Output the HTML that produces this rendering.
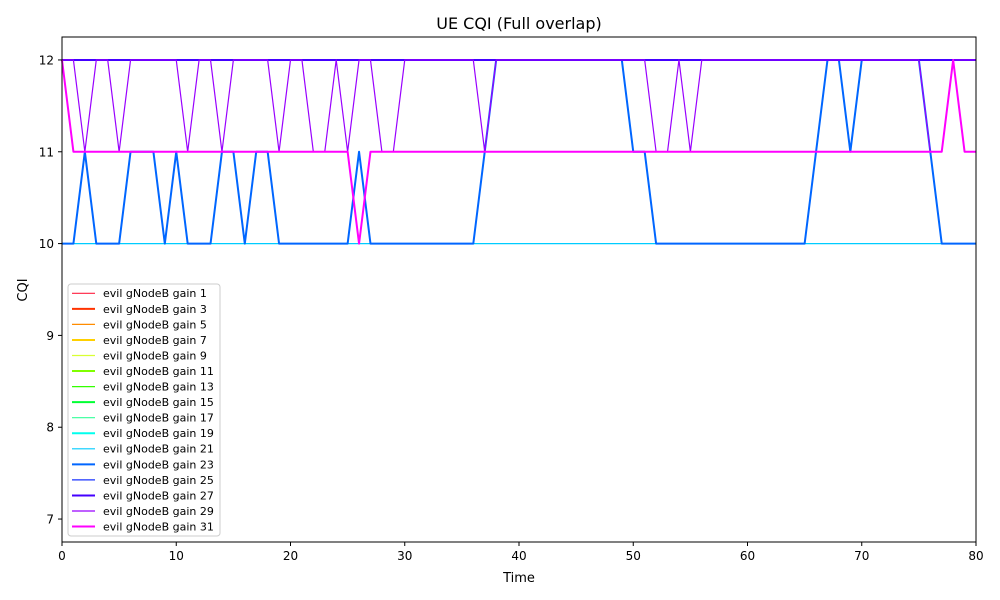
<!DOCTYPE html>
<html><head><meta charset="utf-8"><style>
body{margin:0;background:#fff}
svg{display:block;font-family:"DejaVu Sans","Liberation Sans",sans-serif}
</style></head><body>
<svg id="chart" width="1000" height="600" viewBox="0 0 1000 600">
<rect width="1000" height="600" fill="#fff"/>
<text x="519" y="29" font-size="16" text-anchor="middle">UE CQI (Full overlap)</text>
<g id="plot"></g>
<g id="axes"></g>
<text x="519" y="582" font-size="13" text-anchor="middle">Time</text>
<text x="27" y="290" font-size="13" text-anchor="middle" transform="rotate(-90 27 290)">CQI</text>
<g id="legend"></g>
</svg>
<script>
const gains = [1,3,5,7,9,11,13,15,17,19,21,23,25,27,29,31];
const colors = ["#ff2040","#ff3300","#ff8c00","#ffd000","#d9ff33","#80ff00","#33ff00","#00ff33","#33ff99","#00ffee","#00ccff","#0066ff","#1a33ff","#4400ff","#9900ff","#ff00ff"];
const xTicks = [0,10,20,30,40,50,60,70,80];
const yTicks = [7,8,9,10,11,12];
const s23 = [10,10,11,10,10,10,11,11,11,10,11,10,10,10,11,11,10,11,11,10,10,10,10,10,10,10,11,10,10,10,10,10,10,10,10,10,10,11,12,12,12,12,12,12,12,12,12,12,12,12,11,11,10,10,10,10,10,10,10,10,10,10,10,10,10,10,11,12,12,11,12,12,12,12,12,12,11,10,10,10,10];
const s29 = [12,12,11,12,12,11,12,12,12,12,12,11,12,12,11,12,12,12,12,11,12,12,11,11,12,11,12,12,11,11,12,12,12,12,12,12,12,11,12,12,12,12,12,12,12,12,12,12,12,12,12,12,11,11,12,11,12,12,12,12,12,12,12,12,12,12,12,12,12,12,12,12,12,12,12,12,11,11,12,12,12];
const s31 = [12,11,11,11,11,11,11,11,11,11,11,11,11,11,11,11,11,11,11,11,11,11,11,11,11,11,10,11,11,11,11,11,11,11,11,11,11,11,11,11,11,11,11,11,11,11,11,11,11,11,11,11,11,11,11,11,11,11,11,11,11,11,11,11,11,11,11,11,11,11,11,11,11,11,11,11,11,11,12,11,11];
const constVal = [12,12,12,12,12,12,12,12,12,12,10,null,12,12,null,null];
const NS="http://www.w3.org/2000/svg";
const X0=62,X1=976,Y0=37,Y1=542, xmin=0,xmax=80,ymin=6.75,ymax=12.25;
const xs=v=>X0+(v-xmin)/(xmax-xmin)*(X1-X0);
const ys=v=>Y1-(v-ymin)/(ymax-ymin)*(Y1-Y0);
function mk(t,a,p){const e=document.createElementNS(NS,t);for(const k in a)e.setAttribute(k,a[k]);p.appendChild(e);return e;}
const plot=document.getElementById('plot'),axes=document.getElementById('axes'),leg=document.getElementById('legend');
function seriesFor(i){
  if(gains[i]===23)return s23;if(gains[i]===29)return s29;if(gains[i]===31)return s31;
  const a=[];for(let t=0;t<=80;t++)a.push(constVal[i]);return a;
}
gains.forEach((g,i)=>{
  const d=seriesFor(i);
  const pts=d.map((v,t)=>xs(t).toFixed(2)+','+ys(v).toFixed(2)).join(' ');
  const pl=mk('polyline',{points:pts,fill:'none',stroke:colors[i],'stroke-width':i%2?2:1.2,'stroke-linejoin':'round'},plot);
  
  
});
const fr=mk('rect',{x:X0,y:Y0,width:X1-X0,height:Y1-Y0,fill:'none',stroke:'#000','stroke-width':1},axes);


xTicks.forEach(v=>{
  mk('line',{x1:xs(v),x2:xs(v),y1:Y1,y2:Y1+4,stroke:'#000'},axes);
  const t=mk('text',{x:xs(v),y:Y1+18,'font-size':12,'text-anchor':'middle'},axes);t.textContent=v;
  
  
});
yTicks.forEach(v=>{
  mk('line',{x1:X0-4,x2:X0,y1:ys(v),y2:ys(v),stroke:'#000'},axes);
  const t=mk('text',{x:X0-8,y:ys(v)+4.5,'font-size':12,'text-anchor':'end'},axes);t.textContent=v;
  
  
});
const lb=mk('rect',{x:68,y:284,width:152,height:252,rx:3,fill:'#fff','fill-opacity':0.8,stroke:'#ccc'},leg);


gains.forEach((g,i)=>{
  const y=293.3+i*15.55;
  const ln=mk('line',{x1:72,x2:95,y1:y,y2:y,stroke:colors[i],'stroke-width':i%2?2:1.2},leg);
  
  
  const t=mk('text',{x:103,y:y+3.9,'font-size':11},leg);t.textContent='evil gNodeB gain '+g;
  
  
});
</script>
</body></html>
